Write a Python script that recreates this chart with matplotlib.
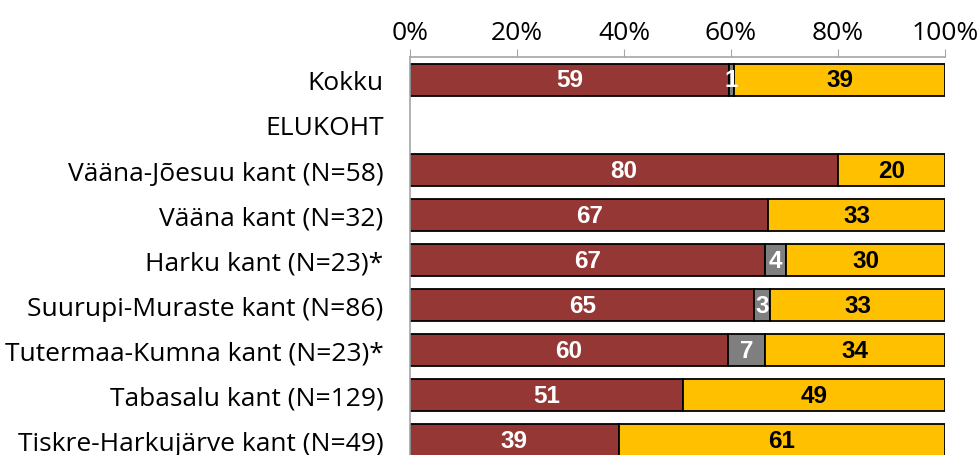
import matplotlib.pyplot as plt
import numpy as np

categories = ["Kokku", "ELUKOHT", "Vääna-Jõesuu kant (N=58)", "Vääna kant (N=32)",
              "Harku kant (N=23)*", "Suurupi-Muraste kant (N=86)",
              "Tutermaa-Kumna kant (N=23)*", "Tabasalu kant (N=129)",
              "Tiskre-Harkujärve kant (N=49)"]
# None = empty row (section header)
s1 = [59, None, 80, 67, 67, 65, 60, 51, 39]
s2 = [1, None, 0, 0, 4, 3, 7, 0, 0]
s3 = [39, None, 20, 33, 30, 33, 34, 49, 61]

colors = ["#953735", "#7f7f7f", "#ffc000"]
txt_colors = ["white", "white", "black"]

plt.rcParams['font.family'] = ['Open Sans', 'DejaVu Sans']

fig = plt.figure(figsize=(9.78, 4.56), dpi=100)
ax = fig.add_axes([0.4192, 0.0, 0.9663 - 0.4192, 0.8728])

y = np.arange(len(categories))
for i in range(len(categories)):
    if s1[i] is None:
        continue
    vals = [s1[i], s2[i], s3[i]]
    tot = sum(vals)
    left = 0
    for k, v in enumerate(vals):
        if v == 0:
            continue
        w = v / tot * 100
        ax.barh(y[i], w, left=left, height=0.71, color=colors[k],
                edgecolor="black", linewidth=1.3)
        ax.text(left + w / 2, y[i], str(v), ha="center", va="center",
                color=txt_colors[k], fontsize=17.5, fontweight="bold",
                family="Liberation Sans")
        left += w

ax.set_xlim(0, 100)
ax.set_ylim(8.33, -0.51)
ax.set_yticks(y)
ax.set_yticklabels(categories, fontsize=19)
ax.set_xticks(np.arange(0, 101, 20))
ax.set_xticklabels([f"{t}%" for t in range(0, 101, 20)], fontsize=19)
ax.xaxis.tick_top()
ax.tick_params(axis="x", direction="out", length=6, color="#a6a6a6", pad=3)
ax.tick_params(axis="y", length=0, pad=19)
for s in ["right", "bottom"]:
    ax.spines[s].set_visible(False)
for s in ["left", "top"]:
    ax.spines[s].set_color("#a6a6a6")
    ax.spines[s].set_linewidth(1.2)

fig.savefig("out.png", dpi=100)
